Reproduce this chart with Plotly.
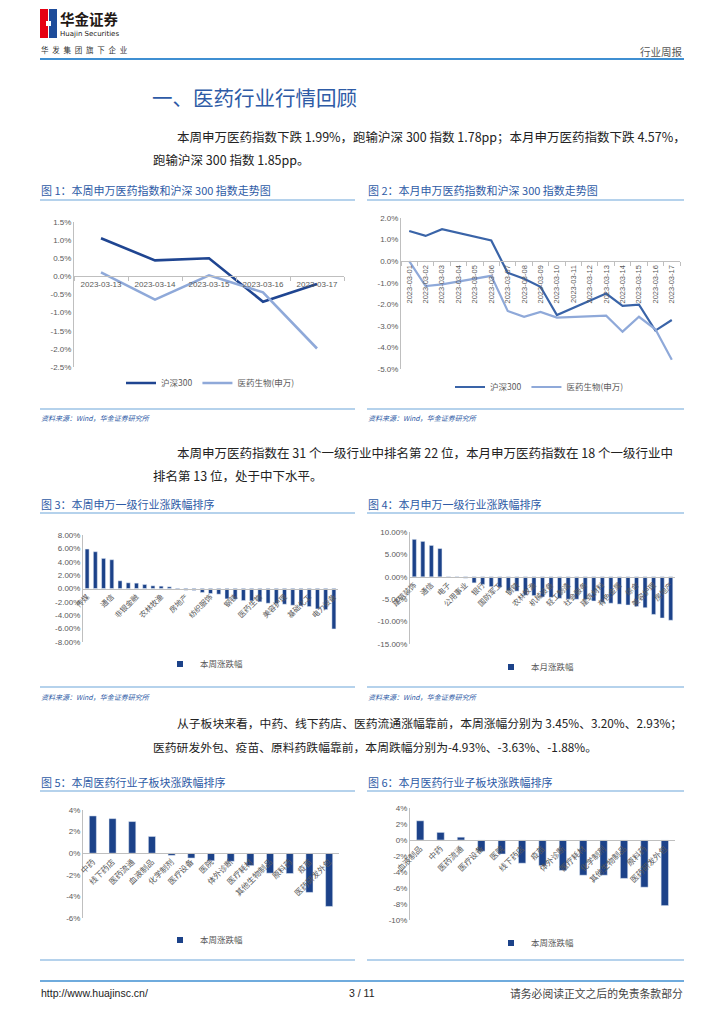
import plotly.graph_objects as go

W, H = 724, 1024
CJK = "Noto Sans CJK SC"
NUM = "Liberation Sans, Noto Sans CJK SC"


def px(x):
    return x / W


def py(y):
    return 1 - y / H


# ---------------- data ----------------
WEEK_DATES = ["2023-03-13", "2023-03-14", "2023-03-15", "2023-03-16", "2023-03-17"]
WEEK_HS300 = [1.05, 0.44, 0.50, -0.70, -0.21]
WEEK_MED = [0.11, -0.64, 0.03, -0.44, -1.99]

MONTH_DATES = ["2023-03-01", "2023-03-02", "2023-03-03", "2023-03-04", "2023-03-05",
               "2023-03-06", "2023-03-07", "2023-03-08", "2023-03-09", "2023-03-10",
               "2023-03-11", "2023-03-12", "2023-03-13", "2023-03-14", "2023-03-15",
               "2023-03-16", "2023-03-17"]
MONTH_HS300 = [1.40, 1.17, 1.48, None, None, 0.96, -0.54, -0.82, -1.19, -2.50,
               None, None, -1.50, -2.07, -2.02, -3.22, -2.73]
MONTH_MED = [0.00, -1.16, -1.08, None, None, -0.68, -2.31, -2.58, -2.35, -2.62,
             None, None, -2.53, -3.27, -2.58, -3.16, -4.57]

SERIES_NAMES = ["沪深300", "医药生物(申万)"]

WEEK_IND = ["传媒", "计算机", "石油石化", "通信", "煤炭", "银行", "非银金融", "建筑装饰",
            "公用事业", "农林牧渔", "环保", "交通运输", "房地产", "食品饮料", "建筑材料",
            "纺织服饰", "家用电器", "商贸零售", "钢铁", "社会服务", "综合", "医药生物",
            "轻工制造", "有色金属", "美容护理", "汽车", "机械设备", "基础化工", "电子",
            "国防军工", "电力设备"]
WEEK_IND_CHG = [5.90, 5.50, 4.50, 4.30, 1.15, 0.85, 0.80, 0.60, 0.40, 0.35, 0.25,
                -0.10, -0.25, -0.28, -0.60, -0.75, -0.85, -1.55, -1.60, -1.80, -1.85,
                -1.99, -2.20, -2.25, -2.35, -2.50, -2.60, -2.70, -3.05, -3.15, -6.05]

MONTH_IND = ["建筑装饰", "传媒", "通信", "计算机", "电子", "石油石化", "公用事业", "煤炭",
             "银行", "非银金融", "国防军工", "家用电器", "钢铁", "环保", "农林牧渔",
             "交通运输", "机械设备", "医药生物", "轻工制造", "纺织服饰", "社会服务",
             "汽车", "建筑材料", "商贸零售", "有色金属", "食品饮料", "综合", "基础化工",
             "美容护理", "电力设备", "房地产"]
MONTH_IND_CHG = [8.36, 7.90, 7.00, 6.30, 0.05, -0.05, -0.30, -1.35, -1.70, -2.20,
                 -2.30, -3.10, -3.20, -4.10, -4.20, -4.50, -4.57, -4.80, -5.00, -5.00,
                 -5.10, -5.40, -5.70, -5.90, -6.10, -6.30, -6.60, -6.90, -8.40, -9.20,
                 -9.70]

WEEK_SUB = ["中药", "线下药店", "医药流通", "血液制品", "化学制剂", "医疗设备", "医院",
            "体外诊断", "医疗耗材", "其他生物制品", "原料药", "疫苗", "医药研发外包"]
WEEK_SUB_CHG = [3.45, 3.20, 2.93, 1.55, -0.20, -0.45, -0.70, -0.75, -1.15, -1.85,
                -1.88, -3.63, -4.93]

MONTH_SUB = ["血液制品", "中药", "医药流通", "医疗设备", "医院", "线下药店", "疫苗",
             "体外诊断", "医疗耗材", "化学制剂", "其他生物制品", "原料药", "医药研发外包"]
MONTH_SUB_CHG = [2.40, 0.95, 0.35, -1.40, -1.75, -2.90, -3.20, -3.80, -4.40, -4.40,
                 -4.80, -5.90, -8.20]

BAR_NAMES = ["本周涨跌幅", "本月涨跌幅", "本周涨跌幅", "本周涨跌幅"]

Y1_TICKS = [1.5, 1.0, 0.5, 0.0, -0.5, -1.0, -1.5, -2.0, -2.5]
Y1_LABELS = ["1.5%", "1.0%", "0.5%", "0.0%", "-0.5%", "-1.0%", "-1.5%", "-2.0%", "-2.5%"]
Y2_TICKS = [2, 1, 0, -1, -2, -3, -4, -5]
Y2_LABELS = ["2.0%", "1.0%", "0.0%", "-1.0%", "-2.0%", "-3.0%", "-4.0%", "-5.0%"]
Y3_TICKS = [8, 6, 4, 2, 0, -2, -4, -6, -8]
Y3_LABELS = ["8.00%", "6.00%", "4.00%", "2.00%", "0.00%", "-2.00%", "-4.00%", "-6.00%", "-8.00%"]
Y4_TICKS = [10, 5, 0, -5, -10, -15]
Y4_LABELS = ["10.00%", "5.00%", "0.00%", "-5.00%", "-10.00%", "-15.00%"]
Y5_TICKS = [4, 2, 0, -2, -4, -6]
Y5_LABELS = ["4%", "2%", "0%", "-2%", "-4%", "-6%"]
Y6_TICKS = [4, 2, 0, -2, -4, -6, -8, -10]
Y6_LABELS = ["4%", "2%", "0%", "-2%", "-4%", "-6%", "-8%", "-10%"]

# ---------------- style ----------------
DARK = "#1F4591"
DARK2 = "#3A64A8"
LIGHT = "#8FA9D9"
BAR = "#1C4289"
AXIS = "#BFBFBF"
TICKC = "#595959"
BLUE_T = "#2E5BA6"
SEP = "#9CC3E6"

fig = go.Figure()

# chart boxes: (x0, x1, ytop, ybottom) in pixels, y-range
BOX = {
    1: (74, 344, 222, 367, [-2.5, 1.5]),
    2: (401, 680, 218, 369, [-5, 2]),
    3: (83, 338, 535, 642, [-8, 8]),
    4: (410, 675, 532, 644, [-15, 10]),
    5: (83, 339, 810, 918, [-6, 4]),
    6: (410, 675, 808, 920, [-10, 4]),
}
YT = {1: (Y1_TICKS, Y1_LABELS), 2: (Y2_TICKS, Y2_LABELS), 3: (Y3_TICKS, Y3_LABELS),
      4: (Y4_TICKS, Y4_LABELS), 5: (Y5_TICKS, Y5_LABELS), 6: (Y6_TICKS, Y6_LABELS)}

# ---- traces ----
fig.add_trace(go.Scatter(x=WEEK_DATES, y=WEEK_HS300, name=SERIES_NAMES[0], mode="lines",
                         line=dict(color=DARK, width=2.6), xaxis="x", yaxis="y", legend="legend"))
fig.add_trace(go.Scatter(x=WEEK_DATES, y=WEEK_MED, name=SERIES_NAMES[1], mode="lines",
                         line=dict(color=LIGHT, width=2.6), xaxis="x", yaxis="y", legend="legend"))
fig.add_trace(go.Scatter(x=MONTH_DATES, y=MONTH_HS300, name=SERIES_NAMES[0], mode="lines",
                         connectgaps=True, line=dict(color=DARK2, width=2.2),
                         xaxis="x2", yaxis="y2", legend="legend2"))
fig.add_trace(go.Scatter(x=MONTH_DATES, y=MONTH_MED, name=SERIES_NAMES[1], mode="lines",
                         connectgaps=True, line=dict(color=LIGHT, width=2.2),
                         xaxis="x2", yaxis="y2", legend="legend2"))

BAR_SETS = [(WEEK_IND, WEEK_IND_CHG, 0.48), (MONTH_IND, MONTH_IND_CHG, 0.48),
            (WEEK_SUB, WEEK_SUB_CHG, 0.36), (MONTH_SUB, MONTH_SUB_CHG, 0.36)]
for k, (cats, vals, bw) in enumerate(BAR_SETS):
    n = k + 3
    fig.add_trace(go.Bar(x=cats, y=vals, name=BAR_NAMES[k], marker_color=BAR, width=bw,
                         showlegend=False, xaxis="x%d" % n, yaxis="y%d" % n))
    # legend entry (small square key like the original)
    fig.add_trace(go.Scatter(x=[None], y=[None], mode="markers", name=BAR_NAMES[k],
                             marker=dict(symbol="square", size=6, color=BAR),
                             xaxis="x%d" % n, yaxis="y%d" % n, legend="legend%d" % n))

layout = dict(width=W, height=H,
              margin=dict(l=0, r=0, t=0, b=0, pad=0, autoexpand=False),
              paper_bgcolor="white", plot_bgcolor="rgba(0,0,0,0)",
              font=dict(family=CJK, color="#222222"), bargap=0)

XTICK = {
    1: dict(tickangle=0, ticks="outside", tickson="boundaries", ticklen=4, tickcolor=AXIS,
            tickfont=dict(size=8, color=TICKC, family=NUM)),
    2: dict(tickangle=-90, ticks="outside", tickson="boundaries", ticklen=4, tickcolor=AXIS,
            tickfont=dict(size=7.5, color=TICKC, family=NUM)),
    3: dict(tickangle=-45, ticks="", tickmode="array", tickvals=WEEK_IND[::3],
            tickfont=dict(size=7.5, color=TICKC, family=CJK)),
    4: dict(tickangle=-45, ticks="", tickmode="array", tickvals=MONTH_IND[::2],
            tickfont=dict(size=7.5, color=TICKC, family=CJK)),
    5: dict(tickangle=-45, ticks="", tickfont=dict(size=8, color=TICKC, family=CJK)),
    6: dict(tickangle=-45, ticks="", tickfont=dict(size=8, color=TICKC, family=CJK)),
}
NCAT = {1: len(WEEK_DATES), 2: len(MONTH_DATES), 3: len(WEEK_IND), 4: len(MONTH_IND),
        5: len(WEEK_SUB), 6: len(MONTH_SUB)}

for i, (x0, x1, yt, yb, rng) in BOX.items():
    sfx = "" if i == 1 else str(i)
    dy = [py(yb), py(yt)]
    zero_pos = dy[0] + (0 - rng[0]) / (rng[1] - rng[0]) * (dy[1] - dy[0])
    ticks_v, ticks_t = YT[i]
    layout["yaxis" + sfx] = dict(domain=dy, range=rng, anchor="x" + sfx, showgrid=False,
                                 zeroline=False, showline=True, linecolor=AXIS, linewidth=1,
                                 ticks="", tickmode="array", tickvals=ticks_v, ticktext=ticks_t,
                                 tickfont=dict(size=8, color=TICKC, family=NUM),
                                 fixedrange=True, automargin=False)
    xa = dict(domain=[px(x0), px(x1)], type="category", anchor="free", position=zero_pos,
              range=[-0.5, NCAT[i] - 0.5], showgrid=False, zeroline=False, showline=True,
              linecolor=AXIS, linewidth=1, fixedrange=True, automargin=False)
    xa.update(XTICK[i])
    layout["xaxis" + sfx] = xa

LEG = {1: (121, 383), 2: (450, 387), 3: (160, 664), 4: (491, 667), 5: (160, 940), 6: (491, 943)}
for i, (lx, ly) in LEG.items():
    key = "legend" if i == 1 else "legend" + str(i)
    layout[key] = dict(x=px(lx), y=py(ly), xanchor="left", yanchor="middle", orientation="h",
                       bgcolor="rgba(0,0,0,0)", font=dict(size=8.5, color=TICKC, family=CJK),
                       itemwidth=30, tracegroupgap=0)

shapes = []
annotations = []


def hline(x0, x1, y, color, width):
    shapes.append(dict(type="line", xref="paper", yref="paper", x0=px(x0), x1=px(x1),
                       y0=py(y), y1=py(y), line=dict(color=color, width=width)))


def rect(x0, x1, y0, y1, color):
    shapes.append(dict(type="rect", xref="paper", yref="paper", x0=px(x0), x1=px(x1),
                       y0=py(y1), y1=py(y0), fillcolor=color, line=dict(width=0)))


def text(x, y, s, size, color, xanchor="left", family=CJK):
    annotations.append(dict(x=px(x), y=py(y), xref="paper", yref="paper", text=s,
                            showarrow=False, xanchor=xanchor, yanchor="middle",
                            font=dict(size=size, color=color, family=family)))


# header logo
rect(40, 48, 9, 38, "#E60012")
rect(49, 57, 9, 38, "#1E4C9A")
rect(46, 51, 21, 26, "white")
text(58, 18, "<b>华金证券</b>", 14.5, "#231815")
text(58, 34, "Huajin Securities", 7, "#231815", family="DejaVu Sans")
text(39, 49, "华\u2002发\u2002集\u2002团\u2002旗\u2002下\u2002企\u2002业", 7.5, "#333333")
text(685, 51, "行业周报", 10.5, "#555555", xanchor="right")
hline(40, 684, 59, "#3F8FD2", 2)

# section title and paragraphs
BODY = 12.5
text(150, 97, "一、医药行业行情回顾", 20.5, BLUE_T)
text(175, 136, "本周申万医药指数下跌 1.99%，跑输沪深 300 指数 1.78pp；本月申万医药指数下跌 4.57%，", BODY, "#222222")
text(151, 159, "跑输沪深 300 指数 1.85pp。", BODY, "#222222")
text(175, 452, "本周申万医药指数在 31 个一级行业中排名第 22 位，本月申万医药指数在 18 个一级行业中", BODY, "#222222")
text(151, 475, "排名第 13 位，处于中下水平。", BODY, "#222222")
text(175, 722, "从子板块来看，中药、线下药店、医药流通涨幅靠前，本周涨幅分别为 3.45%、3.20%、2.93%；", 11.8, "#222222")
text(151, 746, "医药研发外包、疫苗、原料药跌幅靠前，本周跌幅分别为-4.93%、-3.63%、-1.88%。", 11.8, "#222222")

# figure titles, separators, sources
TITLES = [
    (40, 190, "图 1：本周申万医药指数和沪深 300 指数走势图"),
    (367, 190, "图 2：本月申万医药指数和沪深 300 指数走势图"),
    (40, 504, "图 3：本周申万一级行业涨跌幅排序"),
    (367, 504, "图 4：本月申万一级行业涨跌幅排序"),
    (40, 782, "图 5：本周医药行业子板块涨跌幅排序"),
    (367, 782, "图 6：本月医药行业子板块涨跌幅排序"),
]
for x, y, s in TITLES:
    text(x - 1, y, s, 11, BLUE_T)
for y in (200, 409, 513, 687, 791, 960):
    hline(40, 355, y, SEP, 1.5)
    hline(367, 684, y, SEP, 1.5)
for y in (418, 697):
    for x in (40, 367):
        text(x - 1, y, "<i>资料来源：Wind，华金证券研究所</i>", 7, BLUE_T)

# footer
hline(40, 684, 981, "#3F8FD2", 1.5)
text(39, 993, "http://www.huajinsc.cn/", 10.5, "#222222", family="Liberation Sans")
text(362, 993, "3 / 11", 10.5, "#222222", xanchor="center", family="Liberation Sans")
text(685, 993, "请务必阅读正文之后的免责条款部分", 10.8, "#444444", xanchor="right")

layout["shapes"] = shapes
layout["annotations"] = annotations
fig.update_layout(**layout)
fig.write_html("out.html", config={"displayModeBar": False, "staticPlot": True},
               post_script="document.body.style.margin='0';document.body.style.padding='0';"
                           "document.body.style.overflow='hidden';")
